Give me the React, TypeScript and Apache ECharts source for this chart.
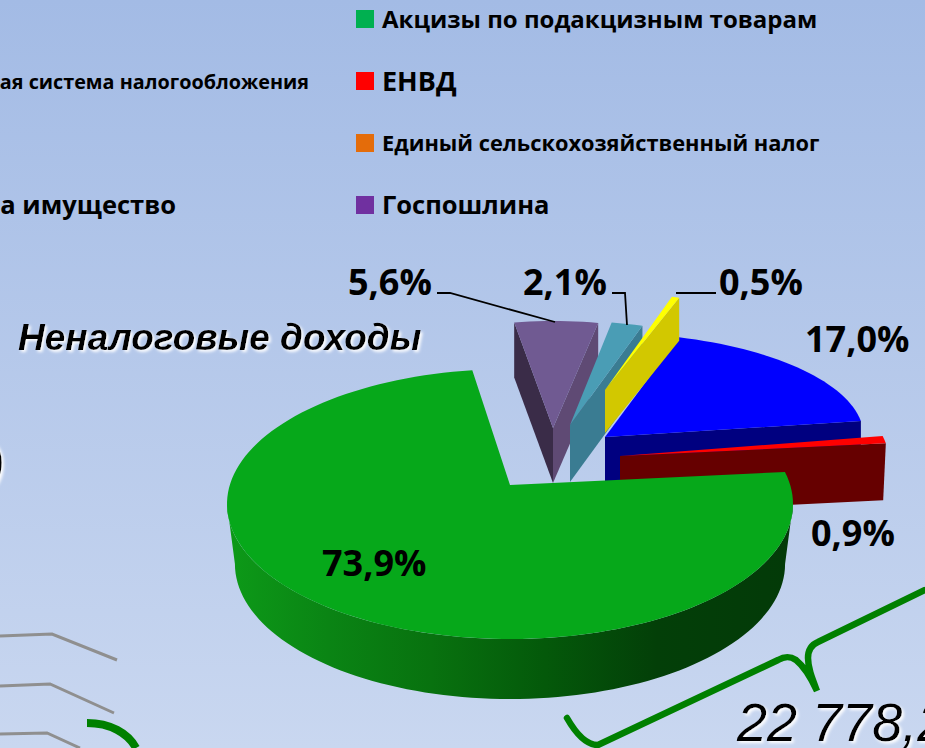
import React, { useEffect, useRef } from "react";
import * as echarts from "echarts";

const SHARES = [5.6, 2.1, 17.0, 0.5, 0.9, 73.9];

const LEGEND_ITEMS = ["Акцизы по подакцизным товарам", "ЕНВД", "Единый сельскохозяйственный налог", "Госпошлина"];
const LEGEND_COLORS = ["#00b050", "#ff0000", "#e46c0a", "#7030a0"];
const LEGEND_SIZES = [24, 27, 21.8, 25.5];
const LEGEND_TOPS = [10, 72, 134, 196];
const LEFT_FRAGMENTS = ["ая система налогообложения", "а имущество"];

const TITLE = "Неналоговые доходы";
const TOTAL = "22 778,2";

type Layout = {
  ax: number; ay: number; cx: number; cy: number; rx: number; ry: number; a0: number; stretch: number;
  depth: number; taper: number; top: string; end?: string; start?: string; wall?: any;
  lx: number; ly: number; leader?: number[][];
};

const wallGradient = {
  type: "linear", x: 0, y: 0, x2: 1, y2: 0,
  colorStops: [
    { offset: 0, color: "#0d9a18" },
    { offset: 0.18, color: "#0a8414" },
    { offset: 0.36, color: "#08720f" },
    { offset: 0.56, color: "#04590a" },
    { offset: 0.76, color: "#033f08" },
    { offset: 1, color: "#033a08" },
  ],
};

const LAYOUT: Layout[] = [
  { ax: 553, ay: 428, cx: 553, cy: 428, rx: 240, ry: 107, a0: 99.3, stretch: 1, depth: 55, taper: 1, top: "#705a92", end: "#5f4a74", start: "#3a2c48", lx: 348, ly: 281, leader: [[437, 293], [450, 293], [555, 322]] },
  { ax: 570, ay: 425, cx: 570, cy: 425, rx: 240, ry: 104, a0: 80, stretch: 1, depth: 57, taper: 1, top: "#4a9db5", end: "#3a7c92", lx: 523, ly: 281, leader: [[612, 293], [625, 293], [627, 325]] },
  { ax: 605, ay: 437, cx: 605, cy: 437, rx: 259, ry: 104, a0: 73.4, stretch: 1.054, depth: 45, taper: 1, top: "#0000ff", end: "#000080", lx: 805, ly: 338 },
  { ax: 605, ay: 390, cx: 605, cy: 390, rx: 240, ry: 97, a0: 73.8, stretch: 1, depth: 43, taper: 1, top: "#ffff00", end: "#d2c800", lx: 719, ly: 281, leader: [[716, 293], [676, 293]] },
  { ax: 620, ay: 456, cx: 620, cy: 456, rx: 268, ry: 100, a0: 11.5, stretch: 1.3, depth: 57, taper: 0.99, top: "#ff0000", end: "#660000", lx: 811, ly: 532 },
  { ax: 510, ay: 485, cx: 510, cy: 504, rx: 283, ry: 135, a0: 13.7, stretch: 1.0376, depth: 60, taper: 0.972, top: "#06a81a", wall: wallGradient, lx: 322, ly: 562 },
];

const BRACE = "M567 718 C575 732 585 745 598 745 L778 660 C785 656 790 656 796 660 C806 668 812 680 817 691 C812 678 808 668 808 658 C808 650 811 645 818 642 L925 590";
const RULES = [
  [[0, 636], [52, 634], [117, 660]],
  [[0, 686], [50, 684], [114, 713]],
  [[0, 734], [47, 733], [80, 748]],
];
const CURL = "M87 723 C110 723 128 733 136 748";

const LABEL_FONT = "'Open Sans', 'Noto Sans', sans-serif";
const RAD = Math.PI / 180;

function renderItem(params: any, api: any) {
  const l = LAYOUT[params.dataIndex];
  const value = api.value(0) as number;
  const sweep = value * 3.6 * l.stretch;
  const a1 = l.a0 - sweep;
  const pt = (a: number): number[] => [l.cx + l.rx * Math.cos(a * RAD), l.cy - l.ry * Math.sin(a * RAD)];
  const low = (p: number[]): number[] => [l.cx + (p[0] - l.cx) * l.taper, p[1] + l.depth];
  const arc = (from: number, to: number) => {
    const n = Math.max(2, Math.ceil(Math.abs(from - to) / 2));
    const out: number[][] = [];
    for (let i = 0; i <= n; i++) out.push(pt(from + ((to - from) * i) / n));
    return out;
  };
  const apex = [l.ax, l.ay];
  const children: any[] = [];
  if (l.wall) {
    const front = arc(0, -180);
    children.push({ type: "polygon", shape: { points: [...front, ...front.map(low).reverse()] }, style: { fill: l.wall } });
  }
  if (l.start) {
    const e = pt(l.a0);
    children.push({ type: "polygon", shape: { points: [apex, e, low(e), low(apex)] }, style: { fill: l.start } });
  }
  if (l.end) {
    const e = pt(a1);
    children.push({ type: "polygon", shape: { points: [apex, e, low(e), low(apex)] }, style: { fill: l.end } });
  }
  children.push({ type: "polygon", shape: { points: [apex, ...arc(l.a0, a1)] }, style: { fill: l.top } });
  if (l.leader) {
    children.push({ type: "polyline", shape: { points: l.leader }, style: { stroke: "#000", lineWidth: 1.8, fill: "none" } });
  }
  children.push({
    type: "text", x: l.lx, y: l.ly,
    style: {
      text: value.toFixed(1).replace(".", ",") + "%",
      fontSize: 36, fontWeight: "bold", fontFamily: LABEL_FONT, fill: "#000",
      textAlign: "left", textVerticalAlign: "middle",
    },
  });
  return { type: "group", children };
}

function App() {
  const ref = useRef<HTMLDivElement>(null);
  useEffect(() => {
    document.body.style.margin = "0";
    echarts.graphic.registerShape("brace", echarts.graphic.extendPath(BRACE, {}));
    echarts.graphic.registerShape("curl", echarts.graphic.extendPath(CURL, {}));
    const chart = echarts.init(ref.current!, undefined, { renderer: "svg" });
    const graphic: any[] = [];
    RULES.forEach((points) => {
      graphic.push({ type: "polyline", shape: { points }, style: { stroke: "#8f8f8f", lineWidth: 3, fill: "none" }, z: 1 });
    });
    graphic.push({ type: "curl", x: 0, y: 0, style: { stroke: "#008000", lineWidth: 8, fill: "none" }, z: 1 });
    graphic.push({ type: "brace", x: 0, y: 0, style: { stroke: "#008000", lineWidth: 6.5, fill: "none", lineCap: "round" }, z: 1 });
    LEGEND_ITEMS.forEach((name, i) => {
      graphic.push({ type: "rect", shape: { x: 356, y: LEGEND_TOPS[i], width: 18, height: 18 }, style: { fill: LEGEND_COLORS[i] }, z: 3 });
      graphic.push({
        type: "text", x: 382, y: LEGEND_TOPS[i] + 8, z: 3,
        style: { text: name, fontSize: LEGEND_SIZES[i], fontWeight: "bold", fontFamily: LABEL_FONT, fill: "#000", verticalAlign: "middle", align: "left" },
      });
    });
    graphic.push({
      type: "text", x: 309, y: 81, z: 3,
      style: { text: LEFT_FRAGMENTS[0], fontSize: 19.8, fontWeight: "bold", fontFamily: LABEL_FONT, fill: "#000", verticalAlign: "middle", align: "right" },
    });
    graphic.push({
      type: "text", x: 176, y: 204, z: 3,
      style: { text: LEFT_FRAGMENTS[1], fontSize: 25.5, fontWeight: "bold", fontFamily: LABEL_FONT, fill: "#000", verticalAlign: "middle", align: "right" },
    });
    const shadow = { textShadowColor: "#ffffff", textShadowBlur: 3, textShadowOffsetX: 2, textShadowOffsetY: 2 };
    graphic.push({
      type: "text", x: 18, y: 337, z: 3,
      style: { text: TITLE, fontSize: 37, fontWeight: "bold", fontStyle: "italic", fontFamily: "'Liberation Sans', Arial, sans-serif", fill: "#000", verticalAlign: "middle", align: "left", ...shadow },
    });
    graphic.push({
      type: "text", x: 737, y: 722, z: 3,
      style: { text: TOTAL, fontSize: 54, fontStyle: "italic", fontFamily: "'Liberation Sans', Arial, sans-serif", fill: "#000", verticalAlign: "middle", align: "left", ...shadow },
    });
    graphic.push({
      type: "text", x: 5, y: 464, z: 3,
      style: { text: ")", fontSize: 54, fontStyle: "italic", fontFamily: "'Liberation Sans', Arial, sans-serif", fill: "#000", verticalAlign: "middle", align: "right", ...shadow },
    });
    chart.setOption({
      animation: false,
      backgroundColor: {
        type: "linear", x: 0, y: 0, x2: 0, y2: 1,
        colorStops: [{ offset: 0, color: "#a3bbe5" }, { offset: 1, color: "#c9d7f0" }],
      },
      graphic,
      series: [{ type: "custom", coordinateSystem: "none", renderItem, data: SHARES, silent: true, z: 2 }],
    });
    return () => chart.dispose();
  }, []);
  return <div ref={ref} style={{ position: "fixed", left: 0, top: 0, width: 925, height: 748 }} />;
}

export default App;
